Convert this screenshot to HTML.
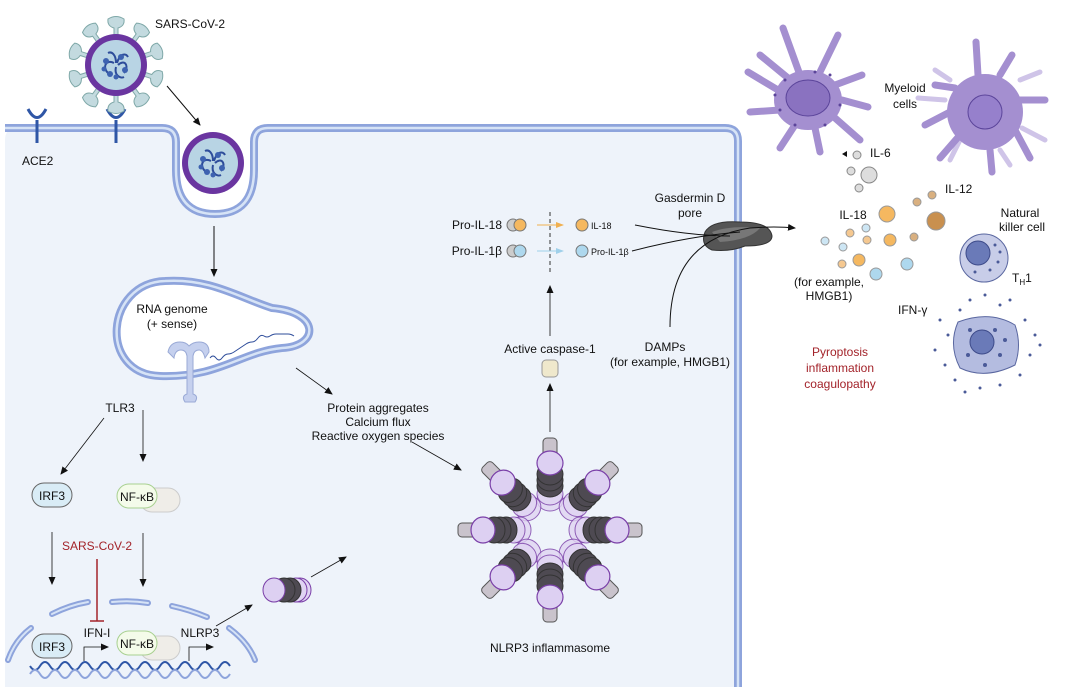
<!DOCTYPE html>
<html><head><meta charset="utf-8"><style>
body{margin:0;background:#fff}
svg{display:block}
text{font-family:"Liberation Sans",Arial,sans-serif;fill:#111}
</style></head><body>
<svg width="1080" height="687" viewBox="0 0 1080 687" xmlns="http://www.w3.org/2000/svg">
<defs>
<marker id="ah" markerWidth="8" markerHeight="8" refX="7" refY="4" orient="auto" markerUnits="userSpaceOnUse"><path d="M0,0.5 L8,4 L0,7.5 z" fill="#111"/></marker>
<marker id="aho" markerWidth="8" markerHeight="8" refX="7" refY="4" orient="auto" markerUnits="userSpaceOnUse"><path d="M0,1 L8,4 L0,7 z" fill="#f0b050"/></marker>
<marker id="ahb" markerWidth="8" markerHeight="8" refX="7" refY="4" orient="auto" markerUnits="userSpaceOnUse"><path d="M0,1 L8,4 L0,7 z" fill="#9fd0ea"/></marker>
<g id="arm">
<rect x="58" y="-7" width="34" height="14" rx="4" fill="#c9c3cc" stroke="#555" stroke-width="1"/>
<ellipse cx="30" cy="0" rx="11" ry="13" fill="#e0d4f2" stroke="#7a3fa8" stroke-width="1" opacity="0.8"/>
<ellipse cx="36" cy="0" rx="11" ry="13" fill="#e0d4f2" stroke="#7a3fa8" stroke-width="1" opacity="0.8"/>
<ellipse cx="44" cy="0" rx="11" ry="13" fill="#4e4a52" stroke="#333" stroke-width="1"/>
<ellipse cx="50" cy="0" rx="11" ry="13" fill="#4e4a52" stroke="#333" stroke-width="1"/>
<ellipse cx="56" cy="0" rx="11" ry="13" fill="#4e4a52" stroke="#333" stroke-width="1"/>
<ellipse cx="67" cy="0" rx="12" ry="13" fill="#ddd0f2" stroke="#7a3fa8" stroke-width="1.2"/>
</g>
<path id="sp" d="M-2,-28 L-2,-37 Q-9,-39 -8,-46 Q0,-51 8,-46 Q9,-39 2,-37 L2,-28 z"/>
<g id="virus">
<g fill="#c3dadf" stroke="#7fa8a8" stroke-width="1">
<use href="#sp"/><use href="#sp" transform="rotate(36)"/><use href="#sp" transform="rotate(72)"/><use href="#sp" transform="rotate(108)"/><use href="#sp" transform="rotate(144)"/><use href="#sp" transform="rotate(180)"/><use href="#sp" transform="rotate(216)"/><use href="#sp" transform="rotate(252)"/><use href="#sp" transform="rotate(288)"/><use href="#sp" transform="rotate(324)"/>
</g>
</g>
<g id="core">
<circle r="31" fill="#6a35a0"/>
<circle r="25" fill="#b8d4e4"/>
<g fill="none" stroke="#2d4c9a" stroke-width="2">
<path d="M-2,-2 C-10,-6 -14,2 -8,8 M2,0 C8,-6 14,0 8,8 M0,2 C-2,10 4,14 8,12 M0,-2 C0,-10 -4,-14 -8,-12 M1,-2 C4,-12 10,-12 12,-8"/>
</g>
<g fill="#3d62b0"><circle cx="-10" cy="-4" r="3"/><circle cx="9" cy="5" r="3"/><circle cx="-6" cy="9" r="3"/><circle cx="5" cy="-8" r="3"/><circle cx="0" cy="12" r="2.5"/><circle cx="-12" cy="4" r="2.5"/></g>
</g>
</defs>

<!-- cell -->
<path d="M5,687 L5,140 Q5,128 17,128 L162,128 Q176,128 176,142 L176,170 Q176,214 215,214 Q254,214 254,170 L254,142 Q254,128 268,128 L725,128 Q738,128 738,141 L738,687 z" fill="#eef3fa"/>
<path d="M5,128 L162,128 Q176,128 176,142 L176,170 Q176,214 215,214 Q254,214 254,170 L254,142 Q254,128 268,128 L725,128 Q738,128 738,141 L738,687" fill="none" stroke="#8ea4dc" stroke-width="8"/>
<path d="M5,128 L162,128 Q176,128 176,142 L176,170 Q176,214 215,214 Q254,214 254,170 L254,142 Q254,128 268,128 L725,128 Q738,128 738,141 L738,687" fill="none" stroke="#d6e3f6" stroke-width="2.5"/>

<!-- ACE2 -->
<g stroke="#2f56a6" stroke-width="3" fill="none">
<path d="M37,143 L37,120 M28,109 Q37,126 46,109"/>
<path d="M116,143 L116,120 M107,109 Q116,126 125,109"/>
</g>
<text x="22" y="165" font-size="12">ACE2</text>

<use href="#virus" x="116" y="65"/>
<use href="#core" x="116" y="65"/>
<use href="#core" x="213" y="163"/>
<text x="155" y="28" font-size="12">SARS-CoV-2</text>
<line x1="167" y1="86" x2="200" y2="125" stroke="#111" marker-end="url(#ah)"/>
<line x1="214" y1="226" x2="214" y2="276" stroke="#111" marker-end="url(#ah)"/>

<!-- ER -->
<path d="M165,281 C210,278 240,298 272,308 C320,312 320,346 282,348 C240,352 220,378 160,376 C98,374 105,283 165,281 z" fill="#fff" stroke="#8ea4dc" stroke-width="8"/>
<path d="M165,281 C210,278 240,298 272,308 C320,312 320,346 282,348 C240,352 220,378 160,376 C98,374 105,283 165,281 z" fill="none" stroke="#d6e3f6" stroke-width="2.5"/>
<text x="172" y="313" font-size="12" text-anchor="middle">RNA genome</text>
<text x="172" y="328" font-size="12" text-anchor="middle">(+ sense)</text>
<path d="M210,358 q3,-4 6,0 t6,0 t6,-4 t6,-2 t6,-4 t6,-4 t6,-2 t6,-4 t6,-2 t6,0 t6,-2 t6,0 t6,0 t6,2" fill="none" stroke="#2d4c9a" stroke-width="1"/>
<g fill="#c5d0ee" stroke="#9aaad6" stroke-width="1">
<path d="M168,352 q2,-10 12,-10 q6,0 9,4 q4,-4 10,-4 q10,0 10,10 l-4,6 q-2,-8 -6,-8 q-5,0 -6,6 l0,38 q6,2 2,8 l-10,0 q-4,-6 2,-8 l0,-38 q-1,-6 -6,-6 q-6,0 -7,8 z"/>
</g>
<text x="120" y="412" font-size="12" text-anchor="middle">TLR3</text>
<line x1="104" y1="418" x2="61" y2="474" stroke="#111" stroke-width="0.8" marker-end="url(#ah)"/>
<line x1="143" y1="410" x2="143" y2="461" stroke="#111" stroke-width="0.8" marker-end="url(#ah)"/>

<!-- pills -->
<rect x="32" y="483" width="40" height="24" rx="12" fill="#d9ecf6" stroke="#666"/>
<text x="52" y="500" font-size="12" text-anchor="middle">IRF3</text>
<rect x="140" y="488" width="40" height="24" rx="12" fill="#efede8" stroke="#ccc"/>
<rect x="117" y="484" width="40" height="24" rx="12" fill="#f4fbea" stroke="#a8d090"/>
<text x="137" y="501" font-size="12" text-anchor="middle">NF-κB</text>

<text x="97" y="550" font-size="12" text-anchor="middle" style="fill:#a3232a">SARS-CoV-2</text>
<line x1="97" y1="559" x2="97" y2="621" stroke="#a3232a" stroke-width="1.5"/>
<line x1="90" y1="621" x2="104" y2="621" stroke="#a3232a" stroke-width="1.5"/>
<line x1="52" y1="532" x2="52" y2="584" stroke="#111" stroke-width="0.8" marker-end="url(#ah)"/>
<line x1="143" y1="533" x2="143" y2="586" stroke="#111" stroke-width="0.8" marker-end="url(#ah)"/>

<!-- nuclear envelope -->
<g fill="none" stroke="#8ea4dc" stroke-width="6" stroke-linecap="round">
<path d="M52,614 Q70,605 88,602"/><path d="M112,602 Q130,600 148,603"/><path d="M172,606 Q190,610 207,617"/>
<path d="M8,660 Q15,640 31,628"/><path d="M229,628 Q248,642 255,660"/>
</g>
<g fill="none" stroke="#d6e3f6" stroke-width="2" stroke-linecap="round">
<path d="M52,614 Q70,605 88,602"/><path d="M112,602 Q130,600 148,603"/><path d="M172,606 Q190,610 207,617"/>
<path d="M8,660 Q15,640 31,628"/><path d="M229,628 Q248,642 255,660"/>
</g>
<rect x="32" y="634" width="40" height="24" rx="12" fill="#d9ecf6" stroke="#666"/>
<text x="52" y="651" font-size="12" text-anchor="middle">IRF3</text>
<rect x="140" y="636" width="40" height="24" rx="12" fill="#efede8" stroke="#ccc"/>
<rect x="117" y="631" width="40" height="24" rx="12" fill="#f4fbea" stroke="#a8d090"/>
<text x="137" y="648" font-size="12" text-anchor="middle">NF-κB</text>
<text x="97" y="637" font-size="12" text-anchor="middle">IFN-I</text>
<text x="200" y="637" font-size="12" text-anchor="middle">NLRP3</text>
<path d="M84,661 L84,647 L108,647" fill="none" stroke="#111" stroke-width="0.8" marker-end="url(#ah)"/>
<path d="M189,661 L189,647 L213,647" fill="none" stroke="#111" stroke-width="0.8" marker-end="url(#ah)"/>
<!-- DNA -->
<g stroke="#2f56a6" stroke-width="2" fill="none">
<path d="M30,666 q5,8 10,0 t10,0 t10,0 t10,0 t10,0 t10,0 t10,0 t10,0 t10,0 t10,0 t10,0 t10,0 t10,0 t10,0 t10,0 t10,0 t10,0 t10,0 t10,0 t10,0"/>
<path d="M30,674 q5,-8 10,0 t10,0 t10,0 t10,0 t10,0 t10,0 t10,0 t10,0 t10,0 t10,0 t10,0 t10,0 t10,0 t10,0 t10,0 t10,0 t10,0 t10,0 t10,0 t10,0" stroke="#8ea4dc"/>
</g>

<line x1="216" y1="626" x2="252" y2="605" stroke="#111" stroke-width="0.8" marker-end="url(#ah)"/>
<g transform="translate(284,590)">
<ellipse cx="16" cy="0" rx="11" ry="12" fill="#e0d4f2" stroke="#7a3fa8"/>
<ellipse cx="12" cy="0" rx="11" ry="12" fill="#e0d4f2" stroke="#7a3fa8"/>
<ellipse cx="6" cy="0" rx="11" ry="12" fill="#4e4a52" stroke="#333"/>
<ellipse cx="0" cy="0" rx="11" ry="12" fill="#4e4a52" stroke="#333"/>
<ellipse cx="-10" cy="0" rx="11" ry="12" fill="#ddd0f2" stroke="#7a3fa8"/>
</g>
<line x1="311" y1="577" x2="346" y2="557" stroke="#111" stroke-width="0.8" marker-end="url(#ah)"/>

<text x="378" y="412" font-size="12" text-anchor="middle">Protein aggregates</text>
<text x="378" y="426" font-size="12" text-anchor="middle">Calcium flux</text>
<text x="378" y="440" font-size="12" text-anchor="middle">Reactive oxygen species</text>
<line x1="296" y1="368" x2="332" y2="394" stroke="#111" stroke-width="0.8" marker-end="url(#ah)"/>
<line x1="412" y1="442" x2="461" y2="470" stroke="#111" stroke-width="0.8" marker-end="url(#ah)"/>

<!-- inflammasome -->
<g transform="translate(550,530)">
<use href="#arm" transform="rotate(-90)"/><use href="#arm" transform="rotate(-45)"/><use href="#arm" transform="rotate(-135)"/>
<use href="#arm" transform="rotate(0)"/><use href="#arm" transform="rotate(180)"/>
<use href="#arm" transform="rotate(45)"/><use href="#arm" transform="rotate(135)"/><use href="#arm" transform="rotate(90)"/>
</g>
<text x="550" y="652" font-size="12" text-anchor="middle">NLRP3 inflammasome</text>

<line x1="550" y1="432" x2="550" y2="384" stroke="#111" stroke-width="0.8" marker-end="url(#ah)"/>
<rect x="542" y="360" width="16" height="17" rx="4" fill="#efe8cc" stroke="#999"/>
<text x="550" y="353" font-size="12" text-anchor="middle">Active caspase-1</text>
<line x1="550" y1="336" x2="550" y2="286" stroke="#111" stroke-width="0.8" marker-end="url(#ah)"/>
<line x1="550" y1="212" x2="550" y2="273" stroke="#333" stroke-width="1" stroke-dasharray="4,3"/>

<text x="502" y="229" font-size="12" text-anchor="end">Pro-IL-18</text>
<text x="502" y="255" font-size="12" text-anchor="end">Pro-IL-1β</text>
<circle cx="513" cy="225" r="6" fill="#ccc" stroke="#777"/><circle cx="520" cy="225" r="6" fill="#f5b860" stroke="#777"/>
<circle cx="513" cy="251" r="6" fill="#ccc" stroke="#777"/><circle cx="520" cy="251" r="6" fill="#aed8ee" stroke="#777"/>
<line x1="537" y1="225" x2="563" y2="225" stroke="#f0b050" marker-end="url(#aho)"/>
<line x1="537" y1="251" x2="563" y2="251" stroke="#9fd0ea" marker-end="url(#ahb)"/>
<circle cx="582" cy="225" r="6" fill="#f5b860" stroke="#777"/>
<circle cx="582" cy="251" r="6" fill="#aed8ee" stroke="#777"/>
<text x="591" y="229" font-size="9">IL-18</text>
<text x="591" y="255" font-size="9">Pro-IL-1β</text>

<text x="690" y="202" font-size="12" text-anchor="middle">Gasdermin D</text>
<text x="690" y="217" font-size="12" text-anchor="middle">pore</text>
<path d="M705,232 Q712,220 740,222 Q770,222 772,236 Q772,246 745,246 Q730,252 712,250 Q700,245 705,232 z" fill="#555" stroke="#333"/>
<path d="M712,232 Q730,225 760,228 Q750,240 720,242 z" fill="#777"/>
<path d="M635,225 Q690,236 730,236" fill="none" stroke="#111"/>
<path d="M632,251 Q690,236 740,232" fill="none" stroke="#111"/>
<path d="M670,327 Q670,240 750,228 Q775,226 795,228" fill="none" stroke="#111" marker-end="url(#ah)"/>
<text x="665" y="351" font-size="12" text-anchor="middle">DAMPs</text>
<text x="670" y="366" font-size="12" text-anchor="middle">(for example, HMGB1)</text>

<!-- right side cells -->
<g stroke="#a48fd0" stroke-width="7" stroke-linecap="round" fill="none">
<path d="M800,75 L783,28"/><path d="M820,72 L838,35"/><path d="M835,85 L862,75"/><path d="M842,100 L868,107"/><path d="M835,118 L860,140"/><path d="M815,128 L820,152"/><path d="M795,125 L780,148"/><path d="M780,110 L750,112"/><path d="M778,90 L748,72"/><path d="M788,78 L760,55"/>
</g>
<ellipse cx="808" cy="100" rx="34" ry="30" fill="#a48fd0"/>
<ellipse cx="808" cy="98" rx="22" ry="18" fill="#8a72c0" stroke="#5b449a"/>
<g fill="#5b449a"><circle cx="785" cy="80" r="1.5"/><circle cx="830" cy="75" r="1.5"/><circle cx="840" cy="105" r="1.5"/><circle cx="780" cy="110" r="1.5"/><circle cx="825" cy="125" r="1.5"/><circle cx="795" cy="125" r="1.5"/><circle cx="775" cy="95" r="1.5"/><circle cx="815" cy="72" r="1.5"/></g>
<g stroke="#cfc4e8" stroke-width="5" stroke-linecap="round" fill="none">
<path d="M945,100 L918,98"/><path d="M1020,80 L1040,72"/><path d="M960,140 L950,160"/><path d="M1022,128 L1045,140"/><path d="M1000,150 L1010,165"/><path d="M950,80 L935,70"/>
</g>
<g stroke="#a48fd0" stroke-width="7" stroke-linecap="round" fill="none">
<path d="M978,75 L976,42"/><path d="M1000,75 L1012,55"/><path d="M1020,100 L1045,100"/><path d="M1015,130 L1030,158"/><path d="M990,150 L992,172"/><path d="M960,135 L940,158"/><path d="M950,112 L925,125"/><path d="M955,88 L935,85"/>
</g>
<circle cx="985" cy="112" r="38" fill="#a48fd0"/>
<circle cx="985" cy="112" r="17" fill="#9680cc" stroke="#5b449a"/>
<text x="905" y="92" font-size="12" text-anchor="middle">Myeloid</text>
<text x="905" y="108" font-size="12" text-anchor="middle">cells</text>

<path d="M842,154 l5,-3 0,6 z" fill="#111"/>
<text x="870" y="157" font-size="12">IL-6</text>
<g fill="#ddd" stroke="#888"><circle cx="857" cy="155" r="4"/><circle cx="851" cy="171" r="4"/><circle cx="869" cy="175" r="8"/><circle cx="859" cy="188" r="4"/></g>
<text x="945" y="193" font-size="12">IL-12</text>
<text x="853" y="219" font-size="12" text-anchor="middle">IL-18</text>
<g stroke="#999">
<circle cx="887" cy="214" r="8" fill="#f5b860"/><circle cx="917" cy="202" r="4" fill="#d9b080"/><circle cx="932" cy="195" r="4" fill="#d9b080"/><circle cx="936" cy="221" r="9" fill="#c9904f"/><circle cx="914" cy="237" r="4" fill="#d9b080"/>
<circle cx="890" cy="240" r="6" fill="#f5b860"/><circle cx="867" cy="240" r="4" fill="#f5c890"/><circle cx="850" cy="233" r="4" fill="#f5c890"/><circle cx="866" cy="228" r="4" fill="#cde6f4"/><circle cx="825" cy="241" r="4" fill="#cde6f4"/><circle cx="843" cy="247" r="4" fill="#cde6f4"/><circle cx="859" cy="260" r="6" fill="#f5b860"/><circle cx="842" cy="264" r="4" fill="#f5c890"/><circle cx="876" cy="274" r="6" fill="#aed8ee"/><circle cx="907" cy="264" r="6" fill="#aed8ee"/>
</g>
<text x="829" y="286" font-size="12" text-anchor="middle">(for example,</text>
<text x="829" y="300" font-size="12" text-anchor="middle">HMGB1)</text>
<text x="1020" y="217" font-size="12" text-anchor="middle">Natural</text>
<text x="1022" y="231" font-size="12" text-anchor="middle">killer cell</text>
<circle cx="984" cy="258" r="24" fill="#c8cde8" stroke="#5a67a0"/>
<circle cx="978" cy="253" r="12" fill="#6a7ab8" stroke="#3d4b8a"/>
<g fill="#4a5a98"><circle cx="995" cy="245" r="1.5"/><circle cx="998" cy="262" r="1.5"/><circle cx="990" cy="270" r="1.5"/><circle cx="975" cy="272" r="1.5"/><circle cx="1000" cy="252" r="1.5"/></g>
<text x="1012" y="282" font-size="12">T<tspan font-size="8" dy="3">H</tspan><tspan dy="-3">1</tspan></text>
<text x="898" y="314" font-size="12">IFN-γ</text>
<path d="M958,322 Q990,310 1015,325 Q1022,345 1015,365 Q985,380 960,368 Q948,345 958,322 z" fill="#b4bce0" stroke="#5a67a0"/>
<circle cx="982" cy="342" r="12" fill="#6a7ab8" stroke="#3d4b8a"/>
<g fill="#4a5a98">
<circle cx="940" cy="320" r="1.5"/><circle cx="948" cy="335" r="1.5"/><circle cx="935" cy="350" r="1.5"/><circle cx="945" cy="365" r="1.5"/><circle cx="955" cy="380" r="1.5"/><circle cx="970" cy="300" r="1.5"/><circle cx="985" cy="295" r="1.5"/><circle cx="1000" cy="305" r="1.5"/><circle cx="1025" cy="320" r="1.5"/><circle cx="1035" cy="335" r="1.5"/><circle cx="1030" cy="355" r="1.5"/><circle cx="1020" cy="375" r="1.5"/><circle cx="1000" cy="385" r="1.5"/><circle cx="980" cy="388" r="1.5"/><circle cx="965" cy="392" r="1.5"/><circle cx="1040" cy="345" r="1.5"/><circle cx="960" cy="310" r="1.5"/><circle cx="1010" cy="300" r="1.5"/><circle cx="995" cy="330" r="2"/><circle cx="1000" cy="355" r="2"/><circle cx="968" cy="355" r="2"/><circle cx="1005" cy="340" r="2"/><circle cx="970" cy="330" r="2"/><circle cx="985" cy="365" r="2"/>
</g>
<text x="840" y="356" font-size="12" text-anchor="middle" style="fill:#a3232a">Pyroptosis</text>
<text x="840" y="372" font-size="12" text-anchor="middle" style="fill:#a3232a">inflammation</text>
<text x="840" y="388" font-size="12" text-anchor="middle" style="fill:#a3232a">coagulopathy</text>
</svg>
</body></html>
